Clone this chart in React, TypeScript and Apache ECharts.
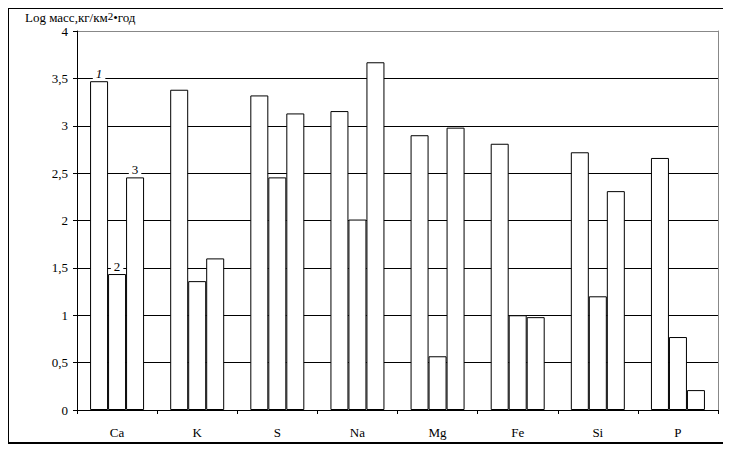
import React, { useEffect, useRef } from "react";
import * as echarts from "echarts";

const categories = ["Ca", "K", "S", "Na", "Mg", "Fe", "Si", "P"];
const series1 = [3.47, 3.38, 3.32, 3.155, 2.9, 2.81, 2.72, 2.66];
const series2 = [1.435, 1.36, 2.455, 2.01, 0.567, 1.0, 1.2, 0.77];
const series3 = [2.455, 1.6, 3.13, 3.67, 2.98, 0.98, 2.31, 0.21];
const seriesMarks = ["1", "2", "3"];
const yTitle = "Log масс,кг/км";
const yTitleSup = "2";
const yTitleEnd = "•год";

const FONT = "Liberation Serif, DejaVu Serif, serif";

export default function App() {
  const ref = useRef<HTMLDivElement>(null);
  useEffect(() => {
    if (!ref.current) return;
    const chart = echarts.init(ref.current, undefined, { renderer: "svg" });
    const allSeries = [series1, series2, series3];
    const markStyles = [
      { fontStyle: "italic" },
      { fontStyle: "normal" },
      { fontStyle: "normal" },
    ];
    const splitColors = ["#000", "#000", "#000", "#000", "#000", "#000", "#000", "#000", "#888"];
    chart.setOption({
      animation: false,
      backgroundColor: "#fff",
      textStyle: { fontFamily: FONT },
      grid: { left: 70, top: 24, right: 8, bottom: 34, containLabel: false },
      xAxis: {
        type: "category",
        data: categories,
        axisLine: { lineStyle: { color: "#000", width: 1 } },
        axisTick: { show: true, inside: false, length: 4, lineStyle: { color: "#000" } },
        axisLabel: { color: "#000", fontFamily: FONT, fontSize: 13, margin: 16 },
        splitLine: { show: false },
      },
      yAxis: [
        {
          type: "value",
          min: 0,
          max: 4,
          interval: 0.5,
          axisLine: { show: true, lineStyle: { color: "#000", width: 1 } },
          axisTick: { show: true, inside: false, length: 4, lineStyle: { color: "#000" } },
          axisLabel: {
            color: "#000",
            fontFamily: FONT,
            fontSize: 13,
            margin: 9,
            formatter: (v: number) => String(v).replace(".", ","),
          },
          splitLine: { show: true, lineStyle: { color: splitColors, width: 1 } },
        },
        {
          type: "value",
          position: "right",
          min: 0,
          max: 4,
          interval: 0.5,
          axisLine: { show: true, lineStyle: { color: "#888", width: 1 } },
          axisTick: { show: false },
          axisLabel: { show: false },
          splitLine: { show: false },
        },
      ],
      series: allSeries.map((vals, si) => ({
        type: "bar",
        name: seriesMarks[si],
        yAxisIndex: 0,
        barWidth: 18,
        barGap: "0%",
        itemStyle: { color: "#fff", borderColor: "#000", borderWidth: 1 },
        emphasis: { disabled: true },
        data: vals.map((v, i) =>
          i === 0
            ? {
                value: v,
                label: {
                  show: true,
                  position: "top",
                  distance: 1,
                  formatter: seriesMarks[si],
                  color: "#000",
                  fontFamily: FONT,
                  fontSize: 13,
                  backgroundColor: "#fff",
                  padding: [0, 3, 0, 3],
                  ...markStyles[si],
                },
              }
            : v
        ),
      })),
      graphic: [
        {
          type: "rect",
          shape: { x: 1, y: 1, width: 717, height: 435 },
          style: { fill: "none", stroke: "#000", lineWidth: 2 },
          silent: true,
        },
        {
          type: "text",
          x: 18,
          y: 3,
          style: {
            text: `{a|${yTitle}}{b|${yTitleSup}}{a|${yTitleEnd}}`,
            fill: "#000",
            rich: {
              a: { fontFamily: FONT, fontSize: 13, lineHeight: 14, verticalAlign: "bottom", fill: "#000" },
              b: { fontFamily: FONT, fontSize: 11, lineHeight: 14, verticalAlign: "top", fill: "#000" },
            },
          },
          silent: true,
        },
      ],
    });
    return () => chart.dispose();
  }, []);
  return (
    <div
      ref={ref}
      style={{ width: 719, height: 437, marginLeft: -1, marginTop: -1 }}
    />
  );
}
